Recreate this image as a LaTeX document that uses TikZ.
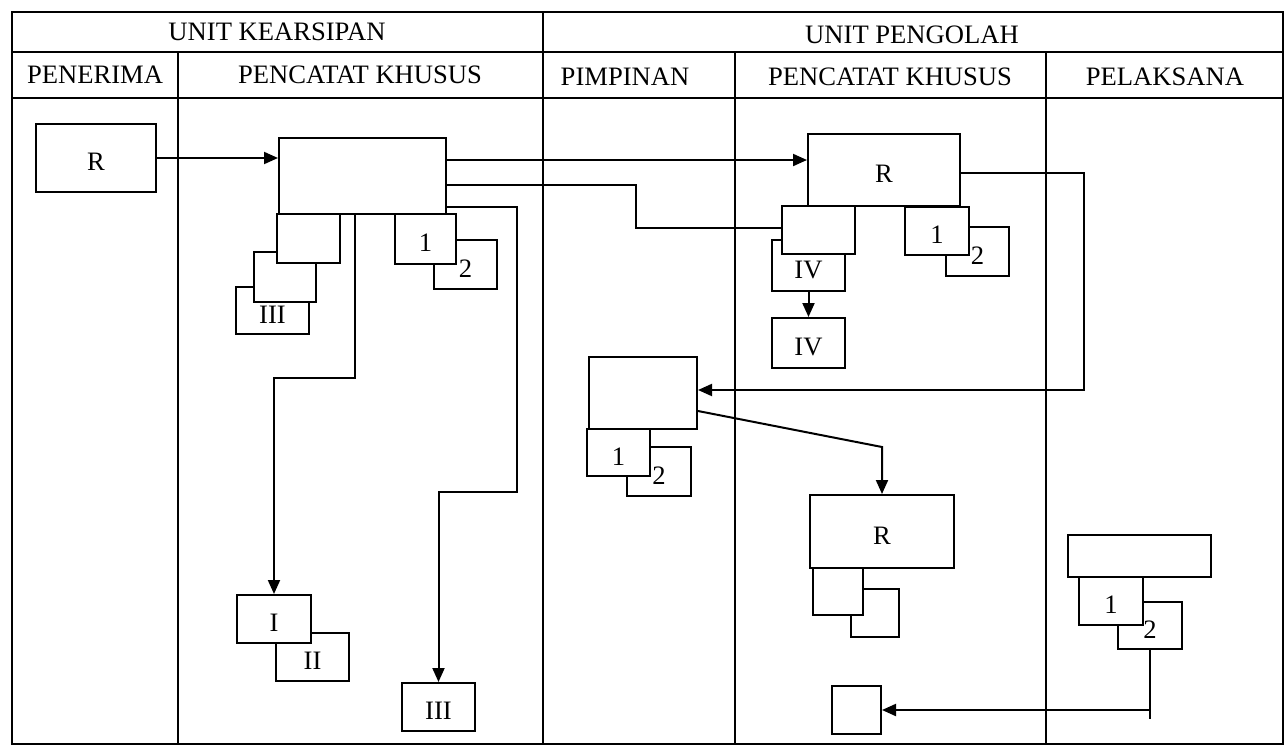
\documentclass[tikz,border=0pt]{standalone}
\usepackage{fontspec}
\setmainfont{Liberation Serif}
\usetikzlibrary{arrows.meta}
\begin{document}
\begin{tikzpicture}[x=0.5pt,y=-0.5pt,
  font=\fontsize{13.3}{16}\selectfont,
  ln/.style={line width=1pt},
  bx/.style={draw, fill=white, line width=1pt, inner sep=0pt, text height=12.5pt, text depth=0pt},
  sz/.style 2 args={minimum width=#1*0.5pt, minimum height=#2*0.5pt},
  arr/.style={line width=1pt, -{Triangle[length=7pt,width=6pt]}},
  hd/.style={inner sep=0pt}]
\useasboundingbox (0,0) rectangle (1287,751);
% table frame
\draw[ln] (12,12) rectangle (1283,744);
\draw[ln] (12,52) -- (1283,52);
\draw[ln] (12,98) -- (1283,98);
\draw[ln] (543,12) -- (543,744);
\draw[ln] (178,52) -- (178,744);
\draw[ln] (735,52) -- (735,744);
\draw[ln] (1046,52) -- (1046,744);
% headers
\node[hd] (h1) at (277,32) {UNIT KEARSIPAN};
\node[hd] (h2) at (912,35) {UNIT PENGOLAH};
\node[hd] (h3) at (95,75) {PENERIMA};
\node[hd] (h4) at (360,75) {PENCATAT KHUSUS};
\node[hd] (h5) at (625,77) {PIMPINAN};
\node[hd] (h6) at (890,77) {PENCATAT KHUSUS};
\node[hd] (h7) at (1165,77) {PELAKSANA};
% boxes
\node[bx,sz={120}{68}] (R0) at (96,158) {R};
\node[bx,sz={167}{76}] (A) at (362.5,176) {};
\node[bx,sz={73}{47}] (B3) at (272.5,310.5) {III};
\node[bx,sz={62}{50}] (B2) at (285,277) {};
\node[bx,sz={63}{49}] (B1) at (308.5,238.5) {};
\node[bx,sz={63}{49}] (C2) at (465.5,264.5) {2};
\node[bx,sz={61}{50}] (C1) at (425.5,239) {1};
\node[bx,sz={152}{72}] (R2) at (884,170) {R};
\node[bx,sz={73}{51}] (D2) at (808.5,265.5) {IV};
\node[bx,sz={73}{48}] (D1) at (818.5,230) {};
\node[bx,sz={73}{50}] (D3) at (808.5,343) {IV};
\node[bx,sz={63}{49}] (E2) at (977.5,251.5) {2};
\node[bx,sz={64}{48}] (E1) at (937,231) {1};
\node[bx,sz={108}{72}] (P) at (643,393) {};
\node[bx,sz={64}{49}] (P2) at (659,471.5) {2};
\node[bx,sz={63}{47}] (P1) at (618.5,452.5) {1};
\node[bx,sz={144}{73}] (R3) at (882,531.5) {R};
\node[bx,sz={48}{48}] (R3b) at (875,613) {};
\node[bx,sz={50}{47}] (R3a) at (838,591.5) {};
\node[bx,sz={143}{42}] (S) at (1139.5,556) {};
\node[bx,sz={64}{47}] (S2) at (1150,625.5) {2};
\node[bx,sz={64}{48}] (S1) at (1111,601) {1};
\node[bx,sz={49}{48}] (T) at (856.5,710) {};
\node[bx,sz={73}{48}] (II) at (312.5,657) {II};
\node[bx,sz={74}{48}] (I) at (274,619) {I};
\node[bx,sz={73}{48}] (III) at (438.5,707) {III};
% helper levels
\coordinate (y160) at (0,160);
\coordinate (y185) at (0,185);
\coordinate (y207) at (0,207);
\coordinate (y228) at (0,228);
\coordinate (y173) at (0,173);
\coordinate (y390) at (0,390);
\coordinate (y411) at (0,411);
\coordinate (y447) at (0,447);
\coordinate (y719) at (0,719);
\coordinate (x355) at (355,0);
% connectors
\draw[arr] (R0.east) -- (R0.east -| A.west);
\draw[arr] (A.east |- y160) -- (R2.west |- y160);
\draw[ln] (A.east |- y185) -- (636,185) -- (636,228) -- (D1.west |- y228);
\draw[arr] (A.east |- y207) -| (517,492) -| (III.north);
\draw[arr] (A.south -| x355) -- (355,378) -| (I.north);
\draw[arr] (R2.east |- y173) -| (1084,390) -- (P.east |- y390);
\draw[arr] (P.east |- y411) -- (R3.north |- y447) -- (R3.north);
\draw[arr] (D2.south) -- (D3.north);
\coordinate (sEnd) at (S2.south |- y719);
\draw[ln] (S2.south) -- (sEnd);
\draw[arr] (S2.south |- T.east) -- (T.east);
\end{tikzpicture}
\end{document}
